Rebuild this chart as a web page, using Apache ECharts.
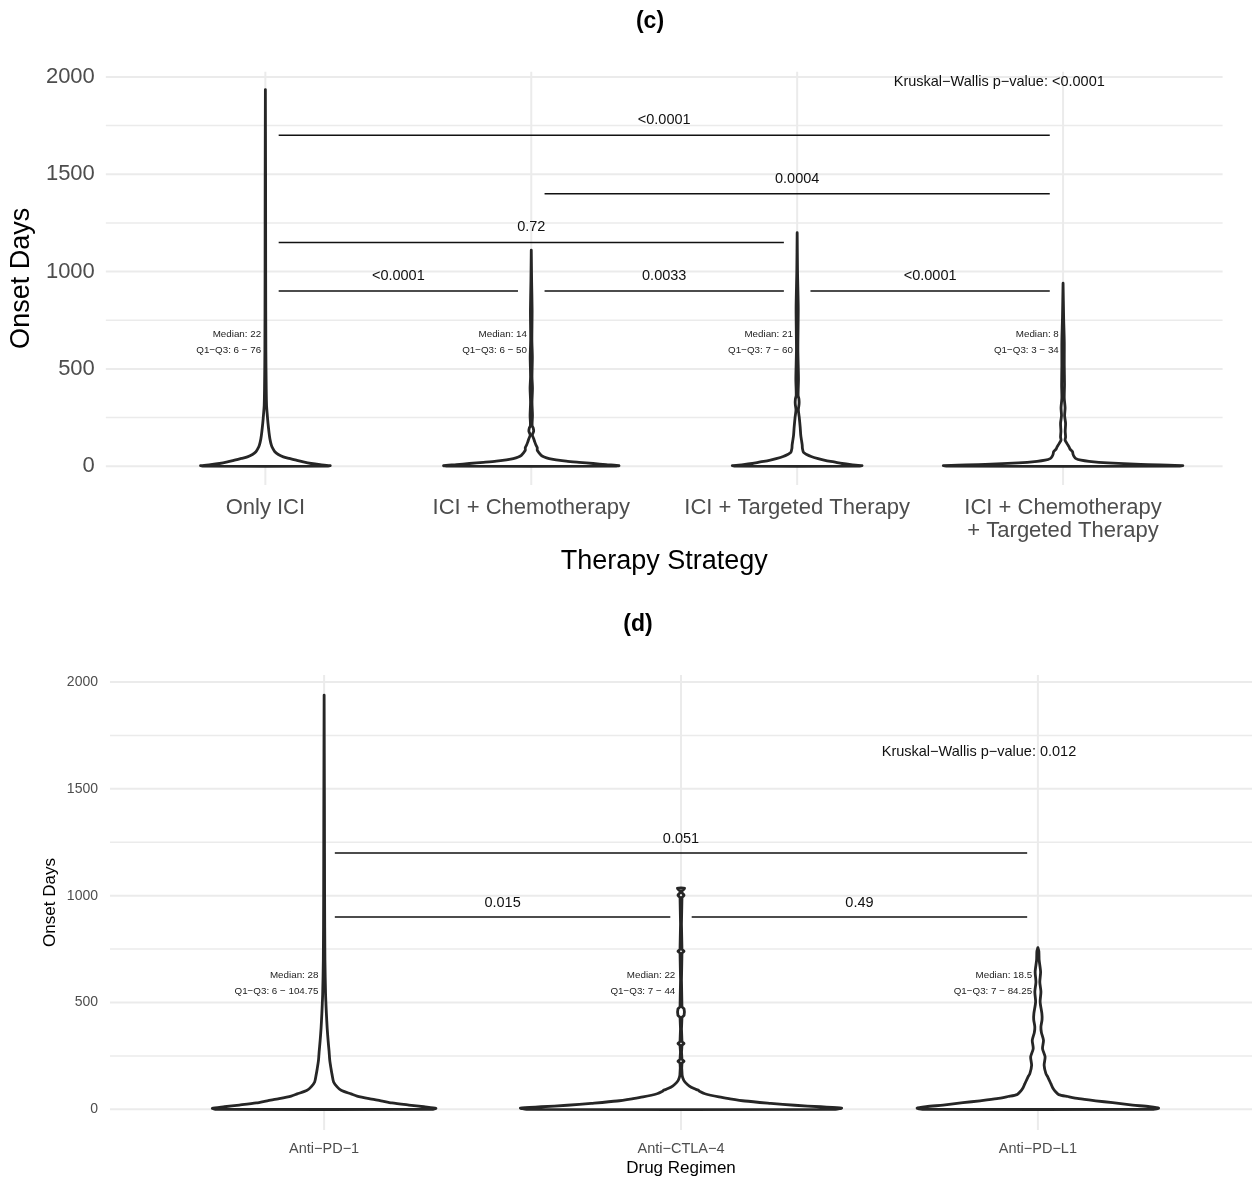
<!DOCTYPE html>
<html><head><meta charset="utf-8">
<script src="https://cdn.jsdelivr.net/npm/echarts@6/dist/echarts.min.js"></script>
<style>html,body{margin:0;padding:0;background:#fff}#chart{width:1256px;height:1178px}</style>
</head><body><div id="chart"></div>
<script>
// ================= DATA =================
// Panel (c): therapy strategy
const strategyCategories = ['Only ICI', 'ICI + Chemotherapy', 'ICI + Targeted Therapy', 'ICI + Chemotherapy\n+ Targeted Therapy'];
// violin outlines: onset-day levels and relative density (% of widest violin in the panel)
const onlyIciDays     = [0, 3, 8, 14, 22, 31, 40, 48, 60, 74, 90, 108, 140, 170, 220, 270, 310, 400, 600, 1000, 1500, 1935];
const onlyIciDensity  = [51.7, 54.2, 45.8, 38.3, 31.7, 25.8, 20, 15, 10.8, 7.9, 6.3, 5, 3.8, 3.1, 2.2, 1.5, 1, 0.7, 0.4, 0.25, 0.17, 0];
const iciChemoDays    = [0, 3, 8, 14, 20, 26, 33, 39, 47, 56, 70, 82, 95, 110, 125, 140, 160, 180, 195, 210, 260, 330, 400, 460, 560, 650, 800, 950, 1110];
const iciChemoDensity = [70, 73.3, 62.5, 51.7, 40, 29.2, 20.8, 15, 10.8, 8.3, 6.3, 5, 5, 3.8, 2.9, 2.1, 0.9, 2, 1.7, 0.7, 1, 0.6, 1, 0.6, 0.9, 0.5, 0.7, 0.3, 0];
const iciTargetDays   = [0, 3, 8, 14, 22, 30, 39, 50, 62, 70, 91, 110, 134, 160, 202, 253, 290, 320, 345, 365, 450, 600, 810, 1000, 1200];
const iciTargetDensity= [51.7, 54.2, 45, 37.5, 30.8, 23.3, 17.5, 11.7, 7.5, 5.4, 4.4, 4.2, 3.6, 3, 2.5, 1.7, 1, 1.6, 1.5, 0.8, 1.1, 0.6, 0.9, 0.3, 0];
const iciTripleDays   = [0, 3, 9, 17, 25, 31, 39, 50, 62, 74, 88, 99, 116, 134, 150, 180, 220, 260, 300, 350, 420, 520, 640, 760, 940];
const iciTripleDensity= [96.7, 100, 65, 37.5, 21.7, 15, 10.8, 9.2, 8.3, 7.9, 5.8, 5, 3.3, 1.7, 2.1, 1.8, 2.1, 1.3, 1.7, 1, 1.2, 1, 1, 0.5, 0];
const strategyMedian  = ['22', '14', '21', '8'];
const strategyIQR     = ['6 − 76', '6 − 50', '7 − 60', '3 − 34'];
const strategyPairs   = [[1, 2], [2, 3], [3, 4], [1, 3], [2, 4], [1, 4]];
const strategyPValues = ['<0.0001', '0.0033', '<0.0001', '0.72', '0.0004', '<0.0001'];
const strategyBracketY= [900, 900, 900, 1150, 1400, 1700];
const strategyKW      = 'Kruskal−Wallis p−value: <0.0001';

// Panel (d): drug regimen
const regimenCategories = ['Anti−PD−1', 'Anti−CTLA−4', 'Anti−PD−L1'];
const pd1Days     = [0, 5, 12, 20, 30, 40, 50, 62, 72, 89, 105, 128, 160, 190, 230, 270, 320, 380, 450, 540, 700, 1000, 1400, 1939];
const pd1Density  = [67.1, 69.6, 62.1, 52.8, 42.2, 35.4, 28, 20.5, 16.8, 10.6, 8.1, 5.9, 5, 4.3, 3.5, 3.1, 2.5, 1.9, 1.4, 0.9, 0.5, 0.3, 0.2, 0];
const ctla4Days   = [0, 6, 12, 19, 28, 39, 50, 58, 73, 83, 90, 97, 110, 125, 136, 160, 215, 225, 235, 298, 308, 318, 430, 440, 470, 480, 730, 740, 750, 990, 1002, 1014, 1022, 1035];
const ctla4Density= [96.3, 100, 87, 70.8, 55.9, 39.8, 29.8, 23.6, 14.9, 11.8, 10.6, 8.1, 5, 2.8, 1.7, 0.7, 0.6, 1.9, 0.6, 0.6, 1.9, 0.6, 0.6, 1.9, 1.9, 0.6, 0.6, 1.9, 0.6, 0.6, 1.9, 0.6, 0.6, 2.2];
const pdl1Days    = [0, 5, 12, 20, 31, 40, 50, 60, 69, 81, 100, 120, 151, 167, 206, 245, 284, 323, 360, 386, 420, 448, 503, 550, 596, 643, 698, 740, 757];
const pdl1Density = [72, 75.2, 69.6, 59, 46.6, 36, 25.5, 18.6, 13, 11.2, 9.3, 8.1, 6.2, 5, 3.9, 4.5, 2.9, 3.5, 2.2, 1.9, 2.6, 2.5, 1.4, 1.9, 1.2, 1.7, 0.8, 0.6, 0];
const regimenMedian  = ['28', '22', '18.5'];
const regimenIQR     = ['6 − 104.75', '7 − 44', '7 − 84.25'];
const regimenPairs   = [[1, 2], [2, 3], [1, 3]];
const regimenPValues = ['0.015', '0.49', '0.051'];
const regimenBracketY= [900, 900, 1200];
const regimenKW      = 'Kruskal−Wallis p−value: 0.012';

const yMajorTicks = [0, 500, 1000, 1500, 2000];
const yMinorTicks = [250, 750, 1250, 1750];

// ================= RENDER =================
const FONT = "'Liberation Sans', Arial, Helvetica, sans-serif";
const GRID_COLOR = '#ebebeb';
const VIOLIN_HALF = 0.45; // max half width in category units

const panels = [
  {
    cats: strategyCategories,
    days: [onlyIciDays, iciChemoDays, iciTargetDays, iciTripleDays],
    dens: [onlyIciDensity, iciChemoDensity, iciTargetDensity, iciTripleDensity],
    median: strategyMedian, iqr: strategyIQR,
    pairs: strategyPairs, pvals: strategyPValues, by: strategyBracketY,
    kw: strategyKW, kwX: 3.76, kwY: 1973, medY: 637,
    bracketInset: 0.05, labelGap: 15, pFont: 14.5, kwFont: 14.5, medFont: 9.8
  },
  {
    cats: regimenCategories,
    days: [pd1Days, ctla4Days, pdl1Days],
    dens: [pd1Density, ctla4Density, pdl1Density],
    median: regimenMedian, iqr: regimenIQR,
    pairs: regimenPairs, pvals: regimenPValues, by: regimenBracketY,
    kw: regimenKW, kwX: 2.835, kwY: 1672, medY: 588,
    bracketInset: 0.03, labelGap: 14, pFont: 14.5, kwFont: 14.5, medFont: 9.8
  }
];

function gridSeries(pi) {
  const lines = [];
  yMajorTicks.forEach(v => lines.push(['h', v, 2]));
  yMinorTicks.forEach(v => lines.push(['h', v, 1.5]));
  panels[pi].cats.forEach((c, i) => lines.push(['v', i + 1, 2]));
  return {
    type: 'custom', xAxisIndex: pi, yAxisIndex: pi, silent: true, z: 0,
    data: lines.map((l, i) => [i]),
    renderItem: function (params, api) {
      const l = lines[params.dataIndex];
      const cs = params.coordSys;
      if (l[0] === 'h') {
        const y = api.coord([1, l[1]])[1];
        return { type: 'line', shape: { x1: cs.x, y1: y, x2: cs.x + cs.width, y2: y },
                 style: { stroke: GRID_COLOR, lineWidth: l[2] } };
      } else {
        const x = api.coord([l[1], 0])[0];
        return { type: 'line', shape: { x1: x, y1: cs.y, x2: x, y2: cs.y + cs.height },
                 style: { stroke: GRID_COLOR, lineWidth: l[2] } };
      }
    }
  };
}

function violinSeries(pi) {
  const p = panels[pi];
  return {
    type: 'custom', xAxisIndex: pi, yAxisIndex: pi, silent: true, z: 3, clip: false,
    data: p.cats.map((c, i) => [i + 1, 0]),
    renderItem: function (params, api) {
      const i = params.dataIndex, cat = i + 1;
      const d = p.days[i], w = p.dens[i];
      const pts = [];
      for (let k = 0; k < d.length; k++) pts.push(api.coord([cat - w[k] / 100 * VIOLIN_HALF, d[k]]));
      for (let k = d.length - 1; k >= 0; k--) pts.push(api.coord([cat + w[k] / 100 * VIOLIN_HALF, d[k]]));
      return { type: 'polygon', shape: { points: pts, smooth: 0.25 },
               style: { fill: '#ffffff', stroke: '#262626', lineWidth: 2.8, lineJoin: 'round' } };
    }
  };
}

function bracketSeries(pi) {
  const p = panels[pi];
  return {
    type: 'custom', xAxisIndex: pi, yAxisIndex: pi, silent: true, z: 4,
    data: p.pairs.map((pr, i) => [pr[0], p.by[i]]),
    renderItem: function (params, api) {
      const i = params.dataIndex, pr = p.pairs[i];
      const a = api.coord([pr[0] + p.bracketInset, p.by[i]]);
      const b = api.coord([pr[1] - p.bracketInset, p.by[i]]);
      return { type: 'group', children: [
        { type: 'line', shape: { x1: a[0], y1: a[1], x2: b[0], y2: b[1] },
          style: { stroke: '#111', lineWidth: 1.5 } },
        { type: 'text', x: (a[0] + b[0]) / 2, y: a[1] - p.labelGap,
          style: { text: p.pvals[i], fill: '#111', fontSize: p.pFont, fontFamily: FONT, align: 'center', verticalAlign: 'middle' } }
      ] };
    }
  };
}

function medianSeries(pi) {
  const p = panels[pi];
  return {
    type: 'custom', xAxisIndex: pi, yAxisIndex: pi, silent: true, z: 5,
    data: p.cats.map((c, i) => [i + 1, p.medY]),
    renderItem: function (params, api) {
      const i = params.dataIndex;
      const pt = api.coord([i + 1 - 0.016, p.medY]);
      return { type: 'text', x: pt[0], y: pt[1],
        style: { text: 'Median: ' + p.median[i] + '\nQ1−Q3: ' + p.iqr[i], fill: '#222',
                 fontSize: p.medFont, fontFamily: FONT, lineHeight: 16, align: 'right', verticalAlign: 'middle' } };
    }
  };
}

function kwSeries(pi) {
  const p = panels[pi];
  return {
    type: 'custom', xAxisIndex: pi, yAxisIndex: pi, silent: true, z: 5,
    data: [[p.kwX, p.kwY]],
    renderItem: function (params, api) {
      const pt = api.coord([p.kwX, p.kwY]);
      return { type: 'text', x: pt[0], y: pt[1],
        style: { text: p.kw, fill: '#111', fontSize: p.kwFont, fontFamily: FONT, align: 'center', verticalAlign: 'middle' } };
    }
  };
}

const catFormatter = cats => (v) => {
  const r = Math.round(v);
  return (Math.abs(v - r) < 1e-6 && r >= 1 && r <= cats.length) ? cats[r - 1] : '';
};
const yFormatter = (v) => (yMajorTicks.indexOf(v) >= 0 ? String(v) : '');

const option = {
  animation: false,
  backgroundColor: '#ffffff',
  textStyle: { fontFamily: FONT },
  graphic: [
    { type: 'text', x: 650, y: 22, style: { text: '(c)', font: 'bold 23px ' + FONT, fill: '#000', align: 'center', verticalAlign: 'middle' } },
    { type: 'text', x: 638, y: 625, style: { text: '(d)', font: 'bold 23px ' + FONT, fill: '#000', align: 'center', verticalAlign: 'middle' } }
  ],
  grid: [
    { left: 105, right: 33.4, top: 71.7, bottom: 693 },
    { left: 110, right: 4, top: 675, bottom: 48 }
  ],
  xAxis: [
    { type: 'value', gridIndex: 0, min: 0.4, max: 4.6,
      axisLine: { show: false }, axisTick: { show: false }, splitLine: { show: false },
      axisLabel: { customValues: [1, 2, 3, 4], formatter: catFormatter(strategyCategories), fontSize: 22, color: '#4d4d4d', margin: 11, lineHeight: 23 },
      name: 'Therapy Strategy', nameLocation: 'middle', nameGap: 63, nameTextStyle: { fontSize: 27, color: '#000' } },
    { type: 'value', gridIndex: 1, min: 0.4, max: 3.6,
      axisLine: { show: false }, axisTick: { show: false }, splitLine: { show: false },
      axisLabel: { customValues: [1, 2, 3], formatter: catFormatter(regimenCategories), fontSize: 14.5, color: '#4d4d4d', margin: 11 },
      name: 'Drug Regimen', nameLocation: 'middle', nameGap: 30, nameTextStyle: { fontSize: 17, color: '#000' } }
  ],
  yAxis: [
    { type: 'value', gridIndex: 0, min: -96.5, max: 2027,
      axisLine: { show: false }, axisTick: { show: false }, splitLine: { show: false },
      axisLabel: { customValues: yMajorTicks, formatter: yFormatter, fontSize: 22, color: '#4d4d4d', margin: 11 },
      name: 'Onset Days', nameLocation: 'middle', nameGap: 68, nameRotate: 90, nameTextStyle: { fontSize: 27, color: '#000' } },
    { type: 'value', gridIndex: 1, min: -96.8, max: 2033,
      axisLine: { show: false }, axisTick: { show: false }, splitLine: { show: false },
      axisLabel: { customValues: yMajorTicks, formatter: yFormatter, fontSize: 14, color: '#4d4d4d', margin: 12 },
      name: 'Onset Days', nameLocation: 'middle', nameGap: 51, nameMoveOverlap: false, nameRotate: 90, nameTextStyle: { fontSize: 17, color: '#000' } }
  ],
  series: [
    gridSeries(0), violinSeries(0), bracketSeries(0), medianSeries(0), kwSeries(0),
    gridSeries(1), violinSeries(1), bracketSeries(1), medianSeries(1), kwSeries(1)
  ]
};

const chart = echarts.init(document.getElementById('chart'), null, { renderer: 'canvas', width: 1256, height: 1178 });
chart.setOption(option);
</script>
</body></html>
